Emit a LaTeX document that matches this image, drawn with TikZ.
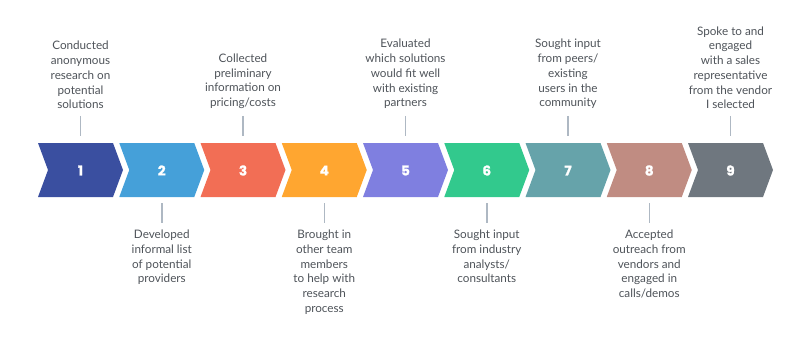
\documentclass[tikz,border=0pt]{standalone}
\usepackage{fontspec}
\setmainfont{Lato}
\newfontfamily\numfont[BoldFeatures={FakeBold=1.2}]{Poppins}
\usetikzlibrary{calc}
\definecolor{c1}{HTML}{3A4FA0}
\definecolor{c2}{HTML}{45A0D9}
\definecolor{c3}{HTML}{F26E55}
\definecolor{c4}{HTML}{FFA630}
\definecolor{c5}{HTML}{7F7FE0}
\definecolor{c6}{HTML}{32C98D}
\definecolor{c7}{HTML}{66A3AA}
\definecolor{c8}{HTML}{C08C82}
\definecolor{c9}{HTML}{6F777F}
\definecolor{txt}{HTML}{4E5359}
\definecolor{tick}{HTML}{AEB8C3}
\tikzset{
  num/.style={text=white,font=\numfont\bfseries\fontsize{13.5}{13.5}\selectfont,inner sep=0pt},
  desc/.style={text=txt,font=\fontsize{11.7}{14.7}\selectfont,align=center,inner sep=0pt},
  tickline/.style={draw=tick,line width=1.5pt},
}
\begin{document}
\begin{tikzpicture}[x=1pt,y=-1pt]
\useasboundingbox (0,0) rectangle (800,342);
\foreach \i in {1,...,9}{
  \pgfmathsetmacro{\L}{38+(\i-1)*81.25}
  \fill[c\i] (\L,143) -- ++(75,0) -- ++(10,27) -- ++(-10,27) -- ++(-75,0) -- ++(10,-27) -- cycle;
  \node[num] (s\i) at (\L+42.5,170.5) {\i};
  \coordinate (cx\i) at (\L+42.5,170);
}
% top labels
\foreach \i/\t in {1/{Conducted\\anonymous\\research on\\potential\\solutions},
                   3/{Collected\\preliminary\\information on\\pricing/costs},
                   5/{Evaluated\\which solutions\\would fit well\\with existing\\partners},
                   7/{Sought input\\from peers/\\existing\\users in the\\community},
                   9/{Spoke to and\\engaged\\with a sales\\representative\\from the vendor\\I selected}}{
  \node[desc,anchor=south] (t\i) at ($(cx\i)+(0,-61)$) {\t};
  \coordinate (ta\i) at ($(cx\i)+(0,-54)$);
  \coordinate (tb\i) at ($(cx\i)+(0,-34)$);
  \draw[tickline] (ta\i) -- (tb\i);
}
% bottom labels
\foreach \i/\t in {2/{Developed\\informal list\\of potential\\providers},
                   4/{Brought in\\other team\\members\\to help with\\research\\process},
                   6/{Sought input\\from industry\\analysts/\\consultants},
                   8/{Accepted\\outreach from\\vendors and\\engaged in\\calls/demos}}{
  \node[desc,anchor=north] (t\i) at ($(cx\i)+(0,60)$) {\t};
  \coordinate (ta\i) at ($(cx\i)+(0,33)$);
  \coordinate (tb\i) at ($(cx\i)+(0,53)$);
  \draw[tickline] (ta\i) -- (tb\i);
}
\end{tikzpicture}
\end{document}
